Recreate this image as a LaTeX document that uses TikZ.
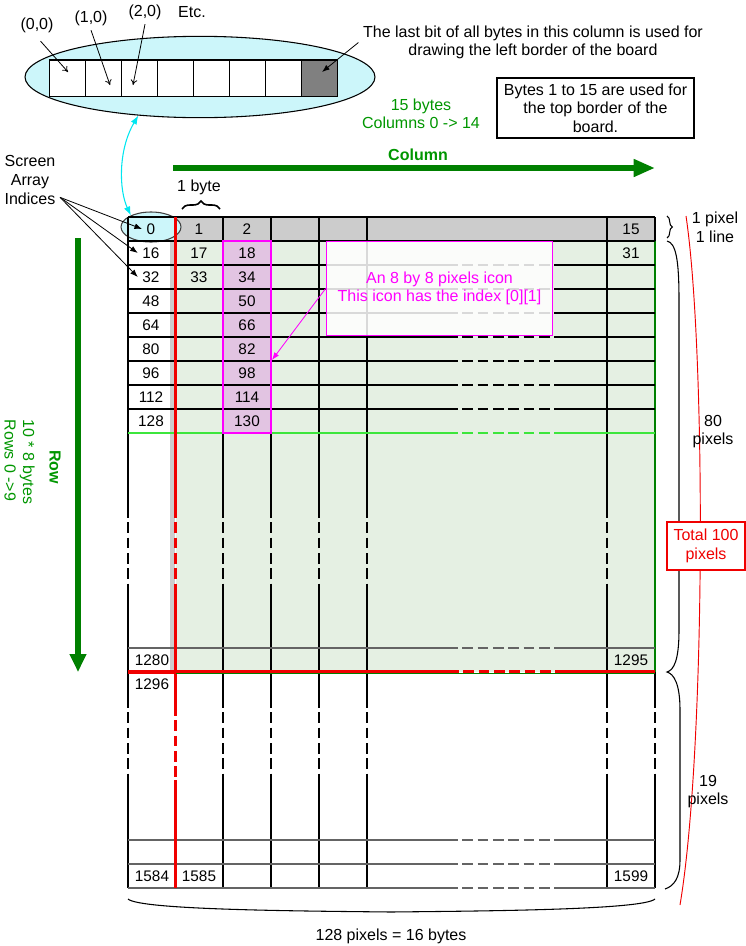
\documentclass[tikz,border=0pt]{standalone}
\usepackage{fontspec}
\setmainfont{Liberation Sans}
\usepackage{tikz}
\usetikzlibrary{arrows.meta,positioning,shapes.geometric,decorations.pathreplacing}
\definecolor{cellgreen}{RGB}{229,240,227}
\definecolor{hdrgrey}{RGB}{204,204,204}
\definecolor{lightcyan}{RGB}{204,246,250}
\definecolor{brightcyan}{RGB}{0,230,240}
\definecolor{iconpink}{RGB}{226,196,226}
\definecolor{mymagenta}{RGB}{255,0,255}
\definecolor{darkgreen}{RGB}{0,128,0}
\definecolor{textgreen}{RGB}{0,150,0}
\definecolor{linegreen}{RGB}{60,230,60}
\definecolor{myred}{RGB}{240,0,0}
\definecolor{stripgrey}{RGB}{205,205,205}
\definecolor{bitgrey}{RGB}{128,128,128}
\definecolor{rowgrey}{RGB}{100,100,100}
\newcommand{\gridfont}{\fontsize{12}{13.9}\selectfont}

\begin{document}
\begin{tikzpicture}[x=0.75pt,y=-0.75pt,>=Latex,
  every node/.style={font=\gridfont},
  num/.style={font=\fontsize{11.5}{13}\selectfont},
  gridline/.style={line width=0.8pt},
  gap/.style={dash pattern=on 8pt off 3.5pt},
  bitcell/.style={draw,minimum width=27pt,minimum height=27.5pt,inner sep=0pt,line width=0.8pt},
  thinarrow/.style={-{To[length=4pt,width=5pt]},line width=0.6pt},
  bigarrow/.style={draw=darkgreen,fill=darkgreen,line width=4.5pt,-{Triangle[length=13.5pt,width=12pt]}},
  redline/.style={draw=myred,line width=2pt},
  greenedge/.style={gridline,draw=darkgreen}]
\useasboundingbox (0,0) rectangle (746,946);

\node[draw,ellipse,fill=lightcyan,line width=0.8pt,minimum width=262.5pt,minimum height=61pt] (bigell) at (200,77) {};
\foreach \i in {0,...,6}
  \node[bitcell,fill=white] (bit\i) at (67.3+36*\i,78.3) {};
\node[bitcell,fill=bitgrey] (bit7) at (319.3,78.3) {};
\node (lbl00) at (37,25) {(0,0)};
\node (lbl10) at (91,18) {(1,0)};
\node (lbl20) at (145,12) {(2,0)};
\node (etc) at (192,12) {Etc.};
\coordinate (tip00) at (68,72);
\coordinate (tip10) at (110,85);
\coordinate (tip20) at (133,85);
\coordinate (tipbit) at (322,72);
\draw[thinarrow,shorten <=4pt] (lbl00.south) -- (tip00);
\draw[thinarrow] (lbl10.south) -- (tip10);
\draw[thinarrow] (lbl20.south) -- (tip20);
\node[align=center] (lastbit) at (533,42.5) {The last bit of all bytes in this column is used for\\drawing the left border of the board};
\draw[->,line width=0.6pt] (lastbit.west) -- (tipbit);
\node[draw,align=center,line width=0.8pt,minimum width=147.75pt,minimum height=45pt] (topbytes) at (595.5,108) {Bytes 1 to 15 are used for\\the top border of the\\board.};
\node[text=textgreen,align=center] (colcount) at (421,114) {15 bytes\\Columns 0 -> 14};

\coordinate (colstart) at (173,168);
\coordinate (colend) at (655,168);
\draw[bigarrow,-{Triangle[length=16pt,width=12.5pt]}] (colstart) -- (colend);
\node[text=textgreen,font=\gridfont\bfseries] (collbl) at (418,155) {Column};
\coordinate (rowstart) at (78,238);
\coordinate (rowend) at (78,672);
\draw[bigarrow] (rowstart) -- (rowend);
\node[rotate=-90,text=textgreen,font=\gridfont\bfseries] (rowlbl) at (55,467) {Row};
\node[rotate=-90,text=textgreen,align=left] (rowcount) at (19.5,462) {10 * 8 bytes\\Rows 0 ->9};

\node (onebyte) at (199,187) {1 byte};
\draw[decorate,decoration={brace,amplitude=6pt},line width=1.2pt] (182,209) -- (220,209);
\node[align=center] (scridx) at (30,180) {Screen\\Array\\Indices};

\fill[cellgreen] (176,241) rectangle (655,672);
\fill[stripgrey] (170,241) rectangle (175,672);
\fill[hdrgrey] (176,217) rectangle (655,241);
\fill[lightcyan] (128,217) rectangle (176,241);
\fill[iconpink] (223,241) rectangle (271,433);
\node[ellipse,draw=darkgray,fill=lightcyan,line width=0.8pt,minimum width=45pt,minimum height=22.5pt] (zeroell) at (151,227) {};

\foreach \x in {128,223,271,319,367,607}{
  \draw[gridline] (\x,217) -- (\x,507);
  \draw[gridline,gap] (\x,507) -- (\x,592);
  \draw[gridline] (\x,592) -- (\x,697);
  \draw[gridline,gap] (\x,697) -- (\x,780);
  \draw[gridline] (\x,780) -- (\x,888);
}
\draw[gridline] (655,217) -- (655,241);
\draw[greenedge] (655,241) -- (655,672);
\draw[gridline] (655,672) -- (655,697);
\draw[gridline,gap] (655,697) -- (655,780);
\draw[gridline] (655,780) -- (655,888);
\draw[gridline] (128,217) -- (655,217);
\draw[gridline] (128,241) -- (655,241);
\foreach \y/\c in {265/black,289/black,313/black,337/black,361/black,385/black,409/black,433/linegreen,648/rowgrey}{
  \draw[gridline,draw=\c] (128,\y) -- (447,\y);
  \draw[gridline,gap,draw=\c] (447,\y) -- (557,\y);
  \draw[gridline,draw=\c] (557,\y) -- (655,\y);
}
\foreach \y in {840,864,888}{
  \draw[draw=rowgrey,line width=1.4pt] (128,\y) -- (447,\y);
  \draw[draw=rowgrey,line width=1.4pt,gap] (447,\y) -- (557,\y);
  \draw[draw=rowgrey,line width=1.4pt] (557,\y) -- (655,\y);
}
\draw[draw=mymagenta,line width=0.8pt] (223,241) rectangle (271,433);

\draw[redline] (175.5,217) -- (175.5,507);
\draw[redline,gap] (175.5,507) -- (175.5,592);
\draw[redline] (175.5,592) -- (175.5,705);
\draw[redline,gap] (175.5,705) -- (175.5,780);
\draw[redline] (175.5,780) -- (175.5,888);
\draw[greenedge] (176,673.5) -- (655,673.5);
\draw[redline,line width=2.4pt] (128,672) -- (176,672);
\draw[redline] (176,671.5) -- (448,671.5);
\draw[redline,gap] (448,671.5) -- (557,671.5);
\draw[redline] (557,671.5) -- (655,671.5);

\node[num] (n0) at (151,229) {0};
\foreach \v [count=\k] in {16,32,...,128}
  \node[num] (n\v) at (151,229+24*\k) {\v};
\node[num] (n1) at (199,229) {1};
\node[num] (n17) at (199,253) {17};
\node[num] (n33) at (199,277) {33};
\foreach \v [count=\k from 0] in {2,18,...,130}
  \node[num] (n\v) at (247,229+24*\k) {\v};
\node[num] (n15) at (631,229) {15};
\node[num] (n31) at (631,253) {31};
\node[num] (n1280) at (152,660) {1280};
\node[num] (n1295) at (631,660) {1295};
\node[num] (n1296) at (152,684) {1296};
\node[num] (n1584) at (152,876) {1584};
\node[num] (n1585) at (199,876) {1585};
\node[num] (n1599) at (631,876) {1599};

\draw[draw=brightcyan,<->,line width=0.8pt] (bigell.212) .. controls (118,150) and (119,190) .. (zeroell.150);
\draw[->,line width=0.6pt] (scridx.-30) -- (n0.west);
\draw[->,line width=0.6pt] (scridx.-30) -- (n16.west);
\draw[->,line width=0.6pt] (scridx.-30) -- (n32.west);

\node[draw=mymagenta,line width=0.8pt,fill=white,fill opacity=0.85,text opacity=1,text=mymagenta,align=center,minimum width=170pt,minimum height=71pt] (icon) at (439.5,288.5) {An 8 by 8 pixels icon\\This icon has the index [0][1]};
\coordinate (icontip) at (272,360);
\draw[draw=mymagenta,fill=mymagenta,->,line width=0.6pt] (icon.west) -- (icontip);

\draw[decorate,decoration={brace,amplitude=4pt},line width=0.8pt] (667,216) -- (667,238);
\node[align=center] (onepix) at (715,227.5) {1 pixel\\1 line};
\draw[line width=0.8pt] (667,241) .. controls (676,243) and (679,260) .. (679,300) -- (679,630) .. controls (679,660) and (674,670) .. (667,672) .. controls (674,674) and (680,684) .. (680,710) -- (680,860) .. controls (680,878) and (674,886) .. (665,889);
\draw[draw=myred,line width=0.7pt] (686,216) .. controls (706,350) and (706,750) .. (680,905);
\node[align=center] (eighty) at (713,431.5) {80\\pixels};
\node[draw=myred,fill=white,text=myred,align=center,line width=0.8pt,minimum width=58.5pt,minimum height=36pt] (total) at (706,546) {Total 100\\pixels};
\node[align=center] (nineteen) at (708,791.5) {19\\pixels};

\draw[line width=0.8pt] (128,899) .. controls (140,910) and (300,911) .. (391,912) .. controls (482,911) and (643,910) .. (655,899);
\node (bytes16) at (391,936) {128 pixels = 16 bytes};
\end{tikzpicture}
\end{document}
